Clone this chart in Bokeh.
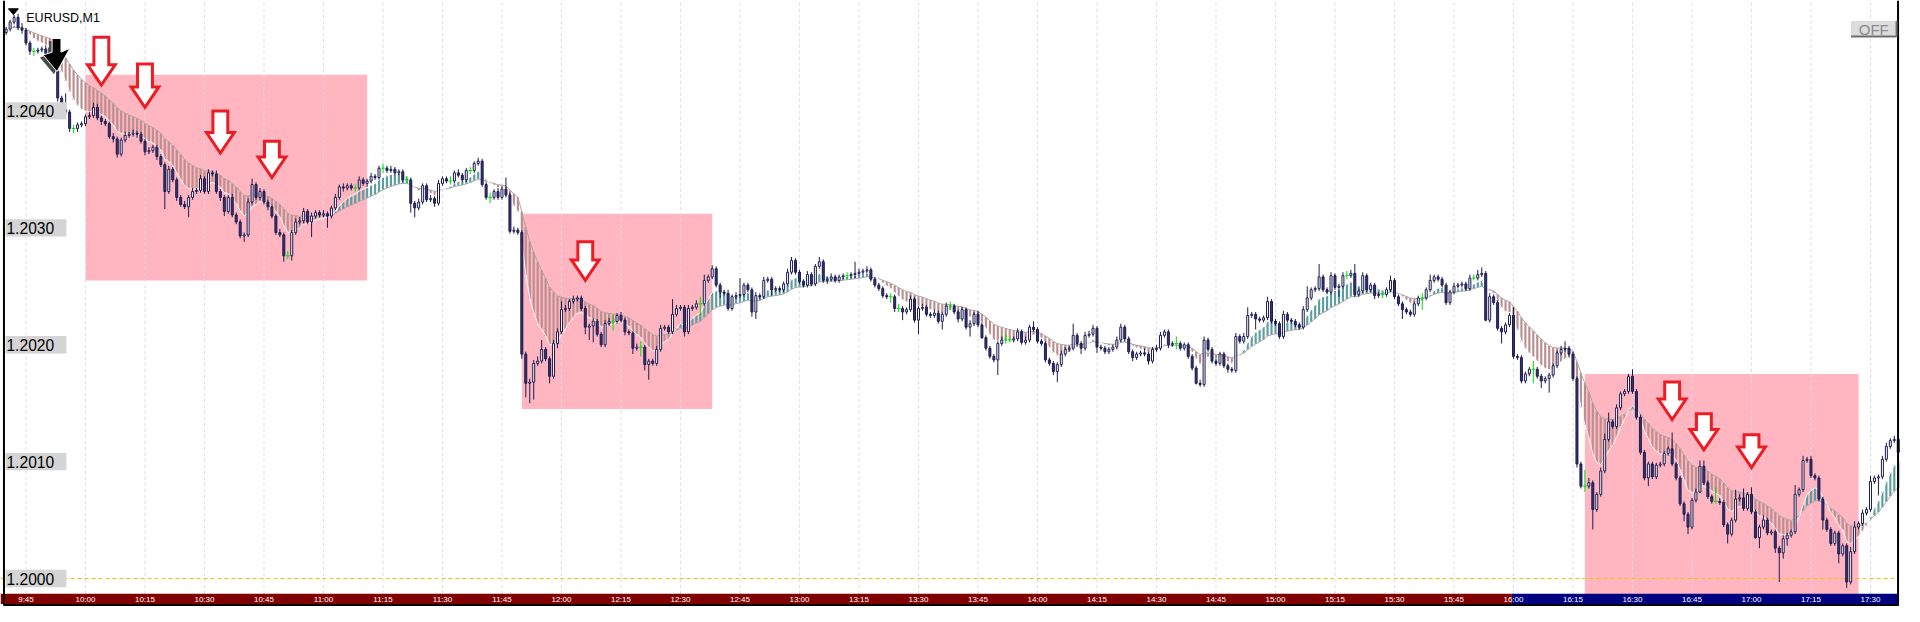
from bokeh.plotting import figure
from bokeh.models import Range1d
from bokeh.embed import file_html
from bokeh.resources import INLINE
from bokeh.core.properties import value

# ---------------- data ----------------
symbol = "EURUSD,M1"
first_bar_time = "9:40"
first_open = 1.20467

close = [
    1.20470, 1.20476, 1.20480, 1.20471, 1.20469, 1.20458, 1.20451, 1.20451, 1.20452, 1.20453,
    1.20449, 1.20454, 1.20434, 1.20411, 1.20401, 1.20399, 1.20385, 1.20385, 1.20388, 1.20389,
    1.20395, 1.20396, 1.20403, 1.20394, 1.20391, 1.20389, 1.20378, 1.20376, 1.20363, 1.20375,
    1.20379, 1.20380, 1.20381, 1.20380, 1.20374, 1.20365, 1.20366, 1.20369, 1.20361, 1.20354,
    1.20331, 1.20350, 1.20341, 1.20326, 1.20320, 1.20318, 1.20326, 1.20331, 1.20332, 1.20342,
    1.20331, 1.20347, 1.20346, 1.20331, 1.20326, 1.20314, 1.20326, 1.20311, 1.20305, 1.20293,
    1.20294, 1.20322, 1.20337, 1.20326, 1.20331, 1.20322, 1.20318, 1.20310, 1.20296, 1.20294,
    1.20276, 1.20276, 1.20296, 1.20305, 1.20306, 1.20314, 1.20305, 1.20310, 1.20313, 1.20311,
    1.20312, 1.20310, 1.20317, 1.20326, 1.20335, 1.20334, 1.20336, 1.20334, 1.20334, 1.20341,
    1.20338, 1.20340, 1.20344, 1.20343, 1.20351, 1.20351, 1.20349, 1.20350, 1.20347, 1.20348,
    1.20341, 1.20341, 1.20321, 1.20317, 1.20322, 1.20336, 1.20324, 1.20325, 1.20321, 1.20338,
    1.20342, 1.20340, 1.20340, 1.20347, 1.20345, 1.20341, 1.20349, 1.20349, 1.20355, 1.20357,
    1.20337, 1.20326, 1.20326, 1.20331, 1.20326, 1.20333, 1.20328, 1.20297, 1.20298, 1.20296,
    1.20192, 1.20167, 1.20168, 1.20184, 1.20186, 1.20196, 1.20188, 1.20173, 1.20201, 1.20211,
    1.20230, 1.20231, 1.20237, 1.20239, 1.20240, 1.20231, 1.20215, 1.20216, 1.20220, 1.20209,
    1.20200, 1.20218, 1.20220, 1.20220, 1.20225, 1.20221, 1.20211, 1.20210, 1.20197, 1.20198,
    1.20198, 1.20183, 1.20186, 1.20184, 1.20196, 1.20214, 1.20215, 1.20211, 1.20226, 1.20231,
    1.20232, 1.20211, 1.20231, 1.20232, 1.20235, 1.20235, 1.20255, 1.20258, 1.20265, 1.20251,
    1.20245, 1.20244, 1.20231, 1.20241, 1.20242, 1.20243, 1.20251, 1.20247, 1.20228, 1.20242,
    1.20241, 1.20255, 1.20256, 1.20247, 1.20248, 1.20247, 1.20252, 1.20262, 1.20272, 1.20262,
    1.20254, 1.20251, 1.20260, 1.20252, 1.20267, 1.20271, 1.20255, 1.20256, 1.20258, 1.20255,
    1.20258, 1.20259, 1.20259, 1.20260, 1.20261, 1.20262, 1.20263, 1.20264, 1.20256, 1.20251,
    1.20248, 1.20242, 1.20241, 1.20241, 1.20231, 1.20231, 1.20228, 1.20230, 1.20239, 1.20221,
    1.20231, 1.20232, 1.20226, 1.20225, 1.20227, 1.20220, 1.20226, 1.20233, 1.20233, 1.20228,
    1.20222, 1.20230, 1.20215, 1.20218, 1.20226, 1.20217, 1.20206, 1.20197, 1.20190, 1.20187,
    1.20201, 1.20204, 1.20204, 1.20204, 1.20205, 1.20211, 1.20202, 1.20204, 1.20215, 1.20213,
    1.20203, 1.20201, 1.20187, 1.20184, 1.20177, 1.20183, 1.20192, 1.20196, 1.20197, 1.20208,
    1.20201, 1.20197, 1.20208, 1.20209, 1.20214, 1.20198, 1.20197, 1.20194, 1.20196, 1.20198,
    1.20204, 1.20215, 1.20205, 1.20194, 1.20189, 1.20192, 1.20193, 1.20192, 1.20186, 1.20196,
    1.20197, 1.20208, 1.20211, 1.20200, 1.20201, 1.20201, 1.20197, 1.20200, 1.20190, 1.20180,
    1.20167, 1.20166, 1.20204, 1.20196, 1.20186, 1.20184, 1.20192, 1.20182, 1.20179, 1.20178,
    1.20207, 1.20203, 1.20207, 1.20225, 1.20226, 1.20222, 1.20221, 1.20223, 1.20237, 1.20220,
    1.20218, 1.20207, 1.20226, 1.20221, 1.20220, 1.20217, 1.20215, 1.20230, 1.20240, 1.20247,
    1.20248, 1.20258, 1.20247, 1.20245, 1.20259, 1.20249, 1.20250, 1.20259, 1.20259, 1.20261,
    1.20243, 1.20246, 1.20259, 1.20247, 1.20251, 1.20242, 1.20243, 1.20243, 1.20247, 1.20255,
    1.20241, 1.20235, 1.20230, 1.20228, 1.20226, 1.20235, 1.20240, 1.20240, 1.20247, 1.20255,
    1.20258, 1.20256, 1.20251, 1.20236, 1.20245, 1.20250, 1.20251, 1.20252, 1.20248, 1.20257,
    1.20257, 1.20260, 1.20261, 1.20221, 1.20241, 1.20236, 1.20214, 1.20211, 1.20217, 1.20225,
    1.20190, 1.20189, 1.20169, 1.20175, 1.20179, 1.20179, 1.20173, 1.20169, 1.20171, 1.20174,
    1.20182, 1.20193, 1.20196, 1.20197, 1.20192, 1.20171, 1.20098, 1.20079, 1.20079, 1.20082,
    1.20059, 1.20072, 1.20092, 1.20119, 1.20134, 1.20130, 1.20146, 1.20158, 1.20160, 1.20173,
    1.20160, 1.20138, 1.20108, 1.20086, 1.20098, 1.20087, 1.20097, 1.20098, 1.20107, 1.20111,
    1.20098, 1.20086, 1.20064, 1.20055, 1.20044, 1.20067, 1.20074, 1.20096, 1.20082, 1.20070,
    1.20066, 1.20066, 1.20065, 1.20046, 1.20038, 1.20050, 1.20068, 1.20069, 1.20060, 1.20072,
    1.20057, 1.20035, 1.20044, 1.20050, 1.20039, 1.20040, 1.20026, 1.20022, 1.20034, 1.20037,
    1.20040, 1.20072, 1.20076, 1.20101, 1.20102, 1.20088, 1.20086, 1.20068, 1.20050, 1.20042,
    1.20030, 1.20039, 1.20021, 1.20028, 1.19997, 1.20023, 1.20044, 1.20047, 1.20056, 1.20059,
    1.20083, 1.20086, 1.20087, 1.20102, 1.20113, 1.20118, 1.20119, 1.20108,
]

upper_wick_pips = [
    0.2, 0.2, 0.2, 0.3, 0.4, 0.2, 0.2, 0.3, 0.2, 0.2, 0.3, 0.2, 0.2, 0.2, 0.2, 1.4, 0.2, 0.3, 0.2, 0.2,
    0.2, 0.3, 0.4, 0.3, 0.2, 0.2, 0.2, 0.3, 0.2, 0.2, 0.3, 0.2, 0.3, 0.2, 0.2, 0.2, 0.3, 0.2, 0.2, 0.2,
    0.2, 0.3, 0.2, 0.2, 0.2, 0.3, 0.2, 0.3, 0.2, 0.3, 0.2, 0.3, 0.2, 0.3, 0.2, 0.2, 0.2, 0.3, 0.2, 0.2,
    0.2, 0.3, 0.5, 0.2, 0.3, 0.2, 0.2, 0.2, 0.2, 0.3, 0.2, 0.4, 0.2, 0.3, 0.3, 0.3, 0.2, 0.3, 0.2, 0.2,
    0.3, 0.2, 0.2, 0.3, 0.2, 0.3, 0.2, 0.2, 0.3, 0.3, 0.2, 0.2, 0.3, 0.2, 0.2, 0.4, 0.2, 0.3, 0.2, 0.2,
    0.2, 0.3, 0.2, 0.2, 0.3, 0.2, 0.2, 0.3, 0.2, 0.3, 0.2, 0.2, 0.4, 0.2, 0.3, 0.2, 0.2, 0.3, 0.2, 0.3,
    0.2, 0.2, 0.4, 0.2, 0.3, 0.2, 1.0, 0.2, 0.3, 0.2, 0.2, 0.2, 0.3, 0.3, 0.4, 0.8, 0.2, 0.2, 0.3, 0.3,
    0.7, 0.3, 0.2, 0.3, 0.2, 0.2, 0.2, 0.2, 0.3, 0.2, 0.2, 0.3, 0.3, 0.5, 0.2, 0.3, 0.2, 0.2, 0.2, 0.3,
    0.5, 0.2, 0.2, 0.2, 0.3, 0.3, 0.2, 0.2, 1.3, 0.3, 0.2, 0.2, 0.3, 0.2, 0.3, 0.6, 0.5, 0.2, 0.3, 0.2,
    0.2, 0.2, 0.3, 0.2, 0.3, 1.4, 0.2, 0.2, 0.2, 0.3, 0.2, 0.3, 0.2, 0.2, 0.2, 0.2, 0.2, 0.3, 0.3, 0.2,
    0.2, 0.2, 0.3, 0.2, 0.2, 0.4, 0.2, 0.2, 0.3, 0.2, 0.2, 0.2, 0.3, 0.2, 1.0, 0.3, 0.2, 0.3, 0.2, 0.2,
    0.2, 0.2, 0.2, 0.3, 0.2, 0.4, 0.2, 0.2, 0.3, 0.2, 0.2, 0.3, 0.2, 0.2, 0.3, 0.2, 0.2, 0.3, 0.4, 0.2,
    0.2, 0.2, 0.2, 0.3, 0.2, 0.3, 0.2, 0.2, 0.2, 0.2, 0.2, 0.3, 0.5, 0.2, 0.2, 0.3, 0.2, 0.3, 0.2, 0.5,
    0.2, 0.2, 0.2, 0.2, 0.2, 0.2, 0.3, 0.2, 0.2, 1.0, 0.2, 0.2, 0.3, 0.3, 0.3, 0.2, 0.2, 0.2, 0.2, 0.2,
    0.3, 0.3, 0.2, 0.2, 0.2, 0.2, 0.2, 0.4, 0.2, 0.2, 0.3, 0.3, 0.2, 0.2, 0.2, 0.6, 0.2, 0.2, 0.2, 0.2,
    0.2, 0.3, 0.3, 0.2, 0.2, 0.2, 0.2, 0.2, 0.2, 0.2, 0.3, 0.2, 0.3, 0.7, 0.2, 0.2, 0.2, 0.2, 0.4, 0.2,
    0.2, 0.2, 0.3, 0.2, 0.2, 0.2, 0.2, 0.3, 1.0, 0.2, 0.2, 1.1, 0.2, 0.2, 0.3, 0.2, 0.2, 0.3, 0.4, 0.3,
    0.8, 0.2, 0.3, 0.2, 0.2, 0.2, 0.2, 0.3, 0.2, 0.4, 0.2, 0.2, 0.2, 0.2, 0.2, 0.2, 0.2, 0.4, 0.2, 0.5,
    0.2, 0.2, 0.2, 0.2, 0.2, 0.3, 0.2, 0.2, 0.2, 0.3, 0.3, 0.4, 0.5, 0.2, 0.3, 0.2, 0.2, 0.2, 0.2, 0.2,
    0.7, 0.2, 0.2, 0.2, 0.2, 0.7, 0.2, 0.2, 0.2, 0.2, 0.2, 0.2, 0.3, 0.6, 0.2, 0.2, 0.2, 0.2, 1.4, 0.4,
    0.2, 0.2, 0.3, 0.5, 0.8, 0.2, 0.3, 0.2, 0.2, 0.2, 0.6, 0.2, 0.2, 0.2, 0.2, 0.2, 0.2, 0.2, 0.2, 0.2,
    1.4, 0.2, 0.2, 0.2, 0.2, 0.2, 0.3, 0.5, 0.5, 0.2, 0.2, 1.2, 0.3, 0.2, 0.2, 0.2, 0.8, 0.3, 0.8, 0.2,
    0.6, 0.2, 0.2, 0.4, 0.2, 0.2, 0.2, 0.2, 0.3, 0.2, 0.2, 0.8, 0.2, 0.4, 0.2, 0.3, 0.2, 0.2, 0.2, 0.2,
    0.2, 0.2, 0.2, 0.2, 0.2, 0.4, 0.5, 0.2, 0.3, 0.2, 0.5, 0.2, 0.2, 0.3, 0.3, 0.2, 0.3, 0.2,
]

lower_wick_pips = [
    0.2, 0.2, 0.2, 0.2, 0.3, 0.2, 0.3, 0.4, 0.2, 0.2, 0.2, 0.2, 0.2, 0.3, 0.2, 0.3, 0.3, 0.4, 0.3, 0.2,
    0.2, 0.2, 0.2, 0.2, 0.3, 0.2, 0.2, 0.3, 0.3, 0.2, 0.2, 0.2, 0.2, 0.3, 0.2, 0.3, 0.2, 0.2, 0.3, 0.2,
    1.5, 0.2, 0.2, 0.3, 0.2, 0.2, 0.9, 0.2, 0.2, 0.2, 0.2, 0.2, 0.2, 0.2, 0.3, 0.4, 0.2, 0.2, 0.2, 0.2,
    0.5, 0.2, 0.2, 0.2, 0.2, 0.2, 0.3, 0.2, 0.2, 0.2, 0.5, 0.3, 0.4, 0.2, 0.2, 0.2, 0.2, 1.3, 0.2, 0.2,
    0.2, 1.0, 0.2, 0.2, 0.2, 0.3, 0.2, 0.2, 0.3, 0.2, 0.2, 0.3, 0.2, 0.2, 0.2, 0.4, 0.2, 0.2, 0.2, 0.2,
    0.2, 0.3, 0.8, 0.8, 0.2, 0.2, 0.2, 0.2, 0.3, 0.2, 0.2, 0.2, 0.3, 0.2, 0.2, 0.2, 0.2, 0.3, 0.2, 0.2,
    0.2, 0.2, 0.5, 0.2, 0.2, 0.2, 0.2, 0.2, 0.2, 0.2, 0.4, 1.2, 1.7, 1.5, 0.2, 0.2, 0.2, 0.6, 0.2, 0.4,
    0.2, 0.2, 0.2, 0.2, 0.2, 0.2, 0.6, 1.1, 1.4, 0.2, 0.2, 0.2, 0.2, 0.8, 0.2, 0.2, 0.3, 0.2, 0.5, 0.2,
    0.8, 0.5, 1.3, 0.2, 0.2, 0.2, 0.2, 0.2, 0.2, 0.2, 0.2, 0.4, 0.2, 0.2, 0.2, 1.0, 0.2, 0.2, 0.2, 0.2,
    0.5, 0.2, 0.2, 0.2, 0.2, 0.2, 0.2, 0.2, 0.4, 0.6, 0.2, 0.2, 0.2, 0.5, 0.2, 0.2, 0.2, 0.2, 0.2, 0.2,
    0.2, 0.2, 0.2, 0.2, 0.2, 0.2, 0.2, 0.3, 0.2, 0.2, 0.2, 0.2, 0.3, 0.2, 0.3, 0.2, 0.2, 0.2, 0.2, 0.2,
    0.2, 0.2, 0.2, 0.5, 0.3, 0.3, 0.7, 0.2, 0.2, 0.2, 1.2, 0.2, 0.2, 0.2, 0.2, 0.2, 0.7, 0.2, 0.3, 0.2,
    0.3, 0.2, 0.2, 0.8, 0.2, 0.2, 0.1, 0.2, 0.2, 0.2, 1.3, 0.2, 0.3, 0.2, 0.2, 0.2, 0.2, 0.2, 0.2, 0.2,
    0.2, 0.2, 0.2, 0.2, 0.3, 0.9, 0.2, 0.2, 0.2, 0.2, 0.2, 0.5, 0.2, 0.2, 0.2, 0.5, 0.2, 0.2, 0.2, 0.2,
    0.2, 0.2, 0.2, 0.2, 0.3, 0.2, 0.2, 0.2, 0.3, 0.2, 0.2, 0.2, 0.2, 0.3, 0.2, 0.5, 0.2, 0.2, 0.2, 0.2,
    0.1, 0.2, 0.2, 0.2, 0.2, 0.2, 0.2, 0.2, 0.3, 0.2, 0.2, 0.2, 0.2, 0.2, 0.2, 0.9, 0.2, 0.2, 0.2, 0.2,
    0.2, 0.2, 0.2, 0.2, 0.2, 0.2, 0.2, 0.2, 0.2, 0.2, 0.2, 0.2, 0.2, 0.2, 0.2, 0.2, 0.8, 0.2, 0.3, 0.2,
    0.2, 0.2, 0.2, 0.2, 0.2, 0.3, 0.2, 0.3, 0.2, 0.2, 0.2, 0.2, 0.8, 0.2, 0.2, 0.2, 0.2, 1.0, 0.2, 0.2,
    0.2, 0.2, 0.2, 0.2, 0.2, 0.2, 0.2, 0.2, 0.2, 0.2, 0.2, 0.2, 0.2, 0.1, 0.2, 0.2, 0.2, 1.0, 0.2, 0.2,
    0.2, 0.2, 0.2, 0.2, 0.2, 1.2, 0.2, 0.6, 0.2, 1.2, 0.2, 0.2, 0.2, 0.2, 0.2, 0.2, 0.3, 0.2, 0.5, 0.2,
    1.7, 0.2, 0.2, 0.2, 0.2, 0.2, 0.2, 0.2, 0.2, 0.2, 0.2, 0.2, 0.2, 0.2, 0.7, 0.2, 0.2, 0.2, 0.2, 0.2,
    0.2, 0.2, 0.2, 0.6, 0.6, 0.2, 0.2, 0.1, 0.2, 0.2, 0.2, 0.2, 0.2, 0.2, 0.8, 0.2, 0.2, 0.2, 0.2, 0.2,
    0.2, 0.1, 0.9, 0.2, 0.2, 0.2, 0.4, 2.5, 0.5, 0.6, 0.2, 0.2, 0.2, 0.2, 0.2, 0.2, 0.2, 0.2, 0.8, 0.2,
    0.2, 0.2, 0.8, 0.2, 0.5, 0.2, 0.2, 0.2, 0.2, 0.2, 0.2, 0.2, 1.5, 0.2, 0.2, 0.2, 0.2, 0.8,
]

time_labels = ["9:45", "10:00", "10:15", "10:30", "10:45", "11:00", "11:15", "11:30",
               "11:45", "12:00", "12:15", "12:30", "12:45", "13:00", "13:15", "13:30",
               "13:45", "14:00", "14:15", "14:30", "14:45", "15:00", "15:15", "15:30",
               "15:45", "16:00", "16:15", "16:30", "16:45", "17:00", "17:15", "17:30"]
price_labels = ["1.2040", "1.2030", "1.2020", "1.2010", "1.2000"]
price_levels = [1.2040, 1.2030, 1.2020, 1.2010, 1.2000]
session_change_time = "16:00"
level_line_price = 1.2000

zone_start = ["10:00", "11:50", "16:18"]
zone_end = ["11:11", "12:38", "17:27"]
zone_top = [1.20431, 1.20312, 1.20175]
zone_bottom = [1.20255, 1.20145, 1.19970]

sell_arrow_time = ["10:04", "10:15", "10:34", "10:47", "12:06", "16:40", "16:48", "17:00"]
sell_arrow_top = [1.20463, 1.20440, 1.20400, 1.20374, 1.20288, 1.20168, 1.20141, 1.20123]
sell_arrow_tip = [1.20422, 1.20403, 1.20364, 1.20343, 1.20255, 1.20136, 1.20110, 1.20095]

fast_period = 8
slow_period = 21

# ---------------- geometry of the reference window ----------------
PIP = 0.0001
REF_W, REF_H = 1920, 622
W, H = 1904, 606
X_FIRST_LABEL = 25.7      # reference px of the first time label
PX_PER_BAR = 4.0
Y_LAST_LEVEL = 593.3      # reference px of the lowest price label
PX_PER_PIP = 12.0


def rx(px):
    return (px - X_FIRST_LABEL) / PX_PER_BAR


def ry(px):
    return price_levels[-1] + (Y_LAST_LEVEL - px) / PX_PER_PIP * PIP


def minutes(t):
    h, m = t.split(":")
    return int(h) * 60 + int(m)


T0 = minutes(time_labels[0])


def tidx(t):
    return minutes(t) - T0


n = min(len(close), len(upper_wick_pips), len(lower_wick_pips))
close = close[:n]
start = tidx(first_bar_time)
xs = [start + k for k in range(n)]
opens = [first_open] + close[:-1]
highs = [max(o, c) + u * PIP for o, c, u in zip(opens, close, upper_wick_pips[:n])]
lows = [min(o, c) - d * PIP for o, c, d in zip(opens, close, lower_wick_pips[:n])]


def ema(vals, period):
    a = 2.0 / (period + 1)
    out, e = [], vals[0]
    for v in vals:
        e = e + a * (v - e)
        out.append(e)
    return out


fast = ema(close, fast_period)
slow = ema(close, slow_period)

p = figure(width=W, height=H, x_range=Range1d(rx(0), rx(REF_W)),
           y_range=Range1d(ry(REF_H), ry(0)), output_backend="svg",
           toolbar_location=None, x_axis_type=None, y_axis_type=None,
           min_border=0)
p.outline_line_color = None
p.background_fill_color = "white"
p.border_fill_color = "white"

# zones
p.quad(left=[tidx(t) for t in zone_start], right=[tidx(t) for t in zone_end],
       top=zone_top, bottom=zone_bottom, fill_color="#FFB6C1", line_color=None)

# vertical dashed grid
gx = [tidx(t) for t in time_labels]
p.segment(x0=gx, y0=[ry(609)] * len(gx), x1=gx, y1=[ry(0)] * len(gx),
          line_color="#DADAF0", line_width=1, line_dash="3 3")

# level line
p.segment(x0=[rx(0)], y0=[level_line_price], x1=[rx(1913)], y1=[level_line_price],
          line_color="#F2C200", line_width=1, line_dash="4 3")

# MA band
band_top = [max(a, b) for a, b in zip(fast, slow)]
band_bot = [min(a, b) for a, b in zip(fast, slow)]
band_col = ["#5F9EA0" if f > s else "#BC8F8F" for f, s in zip(fast, slow)]
p.vbar(x=xs, width=0.55, top=band_top, bottom=band_bot, fill_color=band_col,
       line_color=None)
p.line(xs, slow, line_color="#A8A8A8", line_width=1)
p.line(xs, fast, line_color="#FFFFFF", line_width=1)

# candles
NAVY = "#1C1C50"
BEAR = "#35356A"
nd = [k for k in range(n) if close[k] != opens[k]]
dj = [k for k in range(n) if close[k] == opens[k]]
p.segment(x0=[xs[k] for k in nd], y0=[lows[k] for k in nd],
          x1=[xs[k] for k in nd], y1=[highs[k] for k in nd],
          line_color=NAVY, line_width=1)
p.vbar(x=[xs[k] for k in nd], width=0.5,
       top=[max(opens[k], close[k]) for k in nd],
       bottom=[min(opens[k], close[k]) for k in nd],
       fill_color=["white" if close[k] > opens[k] else BEAR for k in nd],
       line_color=NAVY, line_width=1)
p.segment(x0=[xs[k] for k in dj], y0=[lows[k] for k in dj],
          x1=[xs[k] for k in dj], y1=[highs[k] for k in dj],
          line_color="#00E000", line_width=1)
p.segment(x0=[xs[k] - 0.45 for k in dj], y0=[close[k] for k in dj],
          x1=[xs[k] + 0.45 for k in dj], y1=[close[k] for k in dj],
          line_color="#00E000", line_width=1)

# sell arrows (hollow red)
HW, SW, HH = 14.0 / PX_PER_BAR, 7.5 / PX_PER_BAR, 21.0 / PX_PER_PIP * PIP
axs, ays = [], []
for t, top, tip in zip(sell_arrow_time, sell_arrow_top, sell_arrow_tip):
    cx = tidx(t)
    base = tip + HH
    axs.append([cx - SW, cx + SW, cx + SW, cx + HW, cx, cx - HW, cx - SW])
    ays.append([top, top, base, base, tip, base, base])
p.patches(axs, ays, fill_color="white", line_color="#EC1C24", line_width=3,
          line_join="miter")

# black signal arrow near the start (with its grey shadow)
bx = [rx(v) for v in [52, 61, 61, 70, 57, 43, 52]]
by = [ry(v) for v in [39, 39, 53, 49, 73, 56, 53]]
p.patch([v - 0.8 for v in bx], [v - 2.5 / PX_PER_PIP * PIP for v in by],
        fill_color="#4A4A4A", line_color=None)
p.patch(bx, by, fill_color="black", line_color="white", line_width=1)

# price labels
p.quad(left=[rx(5)] * len(price_levels), right=[rx(66.5)] * len(price_levels),
       top=[v + 8.9 / PX_PER_PIP * PIP for v in price_levels],
       bottom=[v - 8.9 / PX_PER_PIP * PIP for v in price_levels],
       fill_color="#D4D4D4", line_color=None)
p.text(x=[rx(6)] * len(price_levels), y=price_levels, text=price_labels,
       text_font=value("Liberation Sans"), text_font_size="15.6px",
       text_color="black", text_align="left", text_baseline="middle")

# time axis band
sx = tidx(session_change_time) - 0.4
p.quad(left=[rx(0), sx], right=[sx, rx(1913)], top=[ry(609)] * 2,
       bottom=[ry(619.5)] * 2, fill_color=["#800000", "#000080"], line_color=None)
p.text(x=gx, y=[ry(614.5)] * len(gx), text=time_labels,
       text_font=value("Liberation Sans"), text_font_size="8px",
       text_color="white", text_align="center", text_baseline="middle")

# frame
p.segment(x0=[rx(3.5), rx(1913.5), rx(3)], y0=[ry(0), ry(0), ry(620.5)],
          x1=[rx(3.5), rx(1913.5), rx(1914)], y1=[ry(621), ry(621), ry(620.5)],
          line_color="black", line_width=2)

# title
p.patch([rx(8), rx(18), rx(13)], [ry(8.5), ry(8.5), ry(14.5)],
        fill_color="black", line_color="black")
p.text(x=[rx(26)], y=[ry(17.5)], text=[symbol], text_font=value("Liberation Sans"),
       text_font_size="12.5px", text_color="black", text_align="left",
       text_baseline="alphabetic")

# OFF button
p.quad(left=[rx(1866)], right=[rx(1912)], top=[ry(21)], bottom=[ry(37)],
       fill_color="#DCDCDC", line_color=None)
p.segment(x0=[rx(1866), rx(1912)], y0=[ry(37), ry(21)], x1=[rx(1912), rx(1912)],
          y1=[ry(37), ry(37)], line_color="#6E6E6E", line_width=2)
p.text(x=[rx(1889)], y=[ry(29.5)], text=["OFF"], text_font=value("Liberation Sans"),
       text_font_size="15px", text_color="#8C8C8C", text_align="center",
       text_baseline="middle")

open("out.html", "w").write(file_html(p, INLINE))
